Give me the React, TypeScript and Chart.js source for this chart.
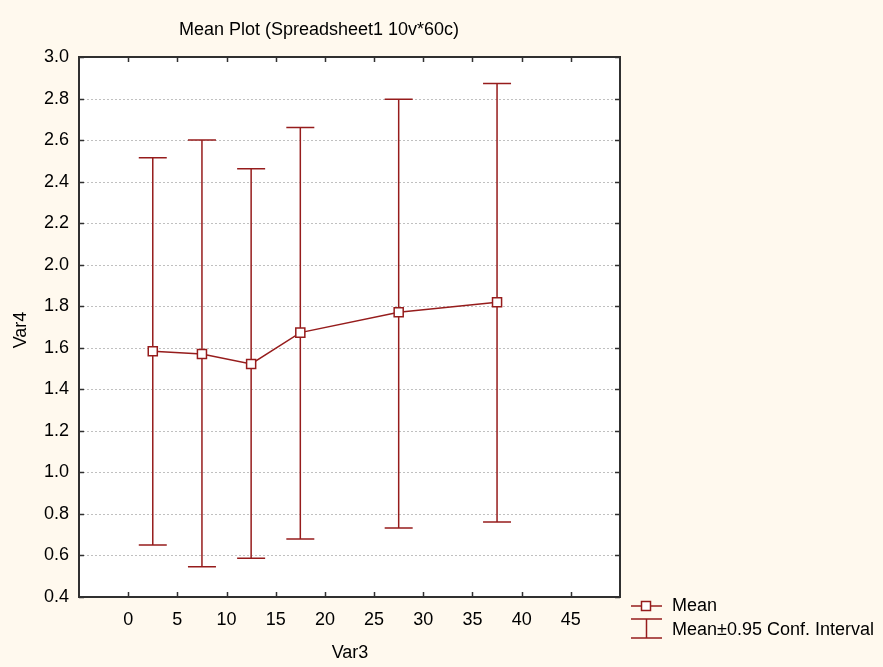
import React, { useEffect, useRef } from "react";
import { Chart, registerables } from "chart.js";

Chart.register(...registerables);

const xValues = [2.5, 7.5, 12.5, 17.5, 27.5, 37.5];
const means = [1.583, 1.57, 1.522, 1.673, 1.771, 1.819];
const upper = [2.515, 2.6, 2.462, 2.661, 2.797, 2.873];
const lower = [0.65, 0.546, 0.586, 0.679, 0.732, 0.761];
const xTickLabels = [0, 5, 10, 15, 20, 25, 30, 35, 40, 45];
const titleText = "Mean Plot (Spreadsheet1 10v*60c)";
const xTitle = "Var3";
const yTitle = "Var4";
const legendLabels = ["Mean", "Mean±0.95 Conf. Interval"];

const RED = "#961c1c";
const FONT = "'Liberation Sans', Arial, sans-serif";

const decorPlugin = {
  id: "decor",
  beforeDraw(chart: any) {
    const { ctx, chartArea: a } = chart;
    ctx.save();
    ctx.fillStyle = "#fff9ee";
    ctx.fillRect(0, 0, chart.width, chart.height);
    ctx.fillStyle = "#ffffff";
    ctx.fillRect(a.left, a.top, a.right - a.left, a.bottom - a.top);
    ctx.restore();
  },
  beforeDatasetsDraw(chart: any) {
    const { ctx, chartArea: a, scales } = chart;
    const xs = scales.x;
    const ys = scales.y;
    ctx.save();
    ctx.strokeStyle = "#c0c0c0";
    ctx.lineWidth = 1;
    ctx.setLineDash([2, 2]);
    ys.ticks.forEach((t: any) => {
      const y = Math.round(ys.getPixelForValue(t.value)) + 0.5;
      if (y <= a.top + 1 || y >= a.bottom - 1) return;
      ctx.beginPath();
      ctx.moveTo(a.left, y);
      ctx.lineTo(a.right, y);
      ctx.stroke();
    });
    ctx.setLineDash([]);
    ctx.strokeStyle = RED;
    ctx.lineWidth = 1.5;
    const cap = 14;
    xValues.forEach((xv, i) => {
      const x = xs.getPixelForValue(xv);
      const yu = ys.getPixelForValue(upper[i]);
      const yl = ys.getPixelForValue(lower[i]);
      ctx.beginPath();
      ctx.moveTo(x, yu);
      ctx.lineTo(x, yl);
      ctx.moveTo(x - cap, yu);
      ctx.lineTo(x + cap, yu);
      ctx.moveTo(x - cap, yl);
      ctx.lineTo(x + cap, yl);
      ctx.stroke();
    });
    ctx.restore();
  },
  afterDraw(chart: any) {
    const { ctx, chartArea: a, scales } = chart;
    const xs = scales.x;
    const ys = scales.y;
    ctx.save();
    ctx.strokeStyle = "#303030";
    ctx.lineWidth = 2;
    ctx.strokeRect(a.left, a.top, a.right - a.left, a.bottom - a.top);
    ctx.lineWidth = 1.5;
    xTickLabels.forEach((v) => {
      const x = Math.round(xs.getPixelForValue(v)) + 0.5;
      ctx.beginPath();
      ctx.moveTo(x, a.bottom);
      ctx.lineTo(x, a.bottom - 5);
      ctx.moveTo(x, a.top);
      ctx.lineTo(x, a.top + 5);
      ctx.stroke();
    });
    ys.ticks.forEach((t: any) => {
      const y = Math.round(ys.getPixelForValue(t.value)) + 0.5;
      ctx.beginPath();
      ctx.moveTo(a.right, y);
      ctx.lineTo(a.right - 5, y);
      ctx.moveTo(a.left, y);
      ctx.lineTo(a.left + 5, y);
      ctx.stroke();
    });
    ctx.fillStyle = "#000";
    ctx.font = `18px ${FONT}`;
    ctx.textBaseline = "middle";
    ctx.textAlign = "center";
    ctx.fillText(titleText, 319, 30);
    ctx.fillText(xTitle, 350, 653);
    ctx.save();
    ctx.translate(21, 330);
    ctx.rotate(-Math.PI / 2);
    ctx.fillText(yTitle, 0, 0);
    ctx.restore();
    ctx.strokeStyle = RED;
    ctx.lineWidth = 1.5;
    ctx.beginPath();
    ctx.moveTo(631, 606);
    ctx.lineTo(662, 606);
    ctx.stroke();
    ctx.fillStyle = "#fff";
    ctx.fillRect(641.5, 601.5, 9, 9);
    ctx.strokeRect(641.5, 601.5, 9, 9);
    ctx.beginPath();
    ctx.moveTo(631, 619);
    ctx.lineTo(662, 619);
    ctx.moveTo(646.5, 619);
    ctx.lineTo(646.5, 638);
    ctx.moveTo(631, 638);
    ctx.lineTo(662, 638);
    ctx.stroke();
    ctx.fillStyle = "#000";
    ctx.textAlign = "left";
    ctx.fillText(legendLabels[0], 672, 606);
    ctx.fillText(legendLabels[1], 672, 630);
    ctx.restore();
  },
};

export default function App() {
  const ref = useRef<HTMLCanvasElement | null>(null);
  useEffect(() => {
    document.body.style.margin = "0";
    const canvas = ref.current;
    if (!canvas) return;
    const chart = new Chart(canvas, {
      type: "line",
      data: {
        datasets: [
          {
            label: legendLabels[0],
            data: xValues.map((x, i) => ({ x, y: means[i] })),
            borderColor: RED,
            borderWidth: 1.5,
            pointStyle: "rect",
            pointRadius: 6.4,
            pointBackgroundColor: "#ffffff",
            pointBorderColor: RED,
            pointBorderWidth: 1.5,
            tension: 0,
          },
        ],
      },
      options: {
        responsive: false,
        animation: false,
        devicePixelRatio: 1,
        layout: { padding: { left: 0, right: 263, top: 57, bottom: 0 } },
        plugins: { legend: { display: false }, tooltip: { enabled: false }, title: { display: false } },
        scales: {
          x: {
            type: "linear",
            min: -5,
            max: 50,
            grid: { display: false, drawTicks: false },
            border: { display: false },
            ticks: {
              stepSize: 5,
              padding: 12,
              color: "#000",
              font: { size: 18, family: FONT },
              maxRotation: 0,
              autoSkip: false,
              callback: (v: any) => (v < 0 || v > 45 ? "" : String(v)),
            },
            afterFit: (s: any) => {
              s.height = 70;
            },
          },
          y: {
            type: "linear",
            min: 0.4,
            max: 3.0,
            grid: { display: false, drawTicks: false },
            border: { display: false },
            ticks: {
              stepSize: 0.2,
              padding: 10,
              color: "#000",
              font: { size: 18, family: FONT },
              callback: (v: any) => Number(v).toFixed(1),
            },
            afterFit: (s: any) => {
              s.width = 79;
            },
          },
        },
      },
      plugins: [decorPlugin],
    });
    return () => chart.destroy();
  }, []);
  return (
    <div style={{ position: "absolute", left: 0, top: 0, width: 883, height: 667 }}>
      <canvas ref={ref} width={883} height={667} />
    </div>
  );
}
